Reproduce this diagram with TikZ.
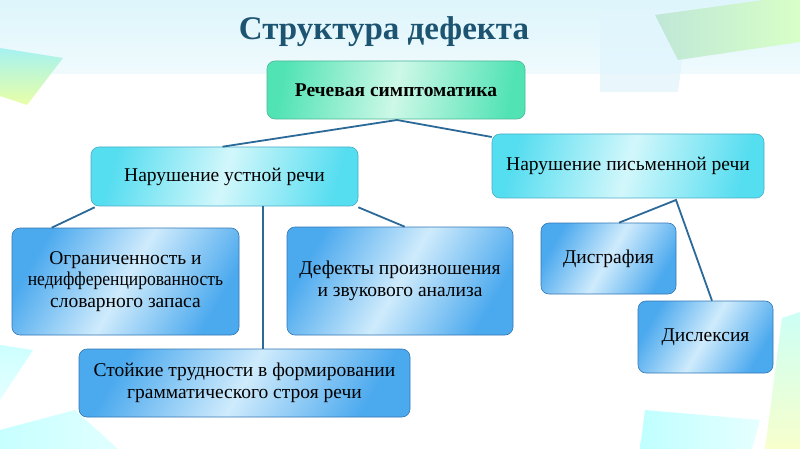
\documentclass[tikz,border=0pt]{standalone}
\usepackage{fontspec}
\setmainfont{Liberation Serif}
\definecolor{titlec}{HTML}{1C5472}
\definecolor{linec}{HTML}{2B6A98}
\definecolor{bedge}{HTML}{4BA9EE}
\definecolor{bmid}{HTML}{CFEBFC}
\definecolor{bdraw}{HTML}{3577B5}
\definecolor{cedge}{HTML}{55DDF0}
\definecolor{cmid}{HTML}{D2F7FB}
\definecolor{cdraw}{HTML}{49AFC8}
\definecolor{gedge}{HTML}{52E3B4}
\definecolor{gmid}{HTML}{CDF8E8}
\definecolor{gdraw}{HTML}{4CB896}
\definecolor{bgtop}{HTML}{DDF5FB}
\begin{document}
\begin{tikzpicture}[x=1pt,y=-1pt,
  box/.style={rounded corners=8pt, align=center, inner sep=1pt, font=\fontsize{19.5}{21.5}\selectfont, line width=0.6pt},
  bluebox/.style={box, draw=bdraw, left color=bedge, right color=bedge, middle color=bmid, shading angle=60},
  cyanbox/.style={box, draw=cdraw, left color=cedge, right color=cedge, middle color=cmid, shading angle=75},
  greenbox/.style={box, draw=gdraw, left color=gedge, right color=gedge, middle color=gmid, shading angle=80},
  conn/.style={draw=linec, line width=1.8pt}]
% background
\useasboundingbox (0,0) rectangle (800,449);
\fill[white] (0,0) rectangle (800,449);
\shade[top color=bgtop, bottom color=bgtop!45] (0,0) rectangle (800,74);
\fill[cyan!12, opacity=0.7] (600,0) -- (690,0) -- (678,92) -- (600,92) -- cycle;
\shade[left color=green!25!teal!25, right color=yellow!30!green!22] (655,15) -- (800,-5) -- (800,42) -- (678,60) -- cycle;
\shade[top color=teal!30!cyan!35, bottom color=green!25!yellow!35] (0,48) -- (63,58) -- (27,105) -- (0,96) -- cycle;
\shade[top color=cyan!20, bottom color=cyan!10] (0,345) -- (33,350) -- (0,400) -- cycle;
\shade[left color=cyan!22, right color=cyan!12] (0,430) -- (75,410) -- (118,449) -- (0,449) -- cycle;
\shade[left color=cyan!25, right color=cyan!10] (645,410) -- (760,420) -- (752,449) -- (640,449) -- cycle;
\shade[top color=green!20!cyan!20, bottom color=green!15!yellow!20] (782,318) -- (800,312) -- (800,449) -- (765,449) -- cycle;
% title
\node[font=\fontsize{33}{36}\selectfont\bfseries, text=titlec] (title) at (384,32) {Структура дефекта};
% boxes
\node[greenbox, minimum width=258pt, minimum height=58pt, font=\fontsize{19.5}{21.5}\selectfont\bfseries] (root) at (396,90) {Речевая симптоматика};
\node[cyanbox, minimum width=267pt, minimum height=59pt] (oral) at (224.5,176.5) {Нарушение устной речи};
\node[cyanbox, minimum width=272pt, minimum height=64pt] (writ) at (628,166) {Нарушение письменной речи};
\node[bluebox, minimum width=227pt, minimum height=107pt] (lex) at (125.5,281.5) {Ограниченность и\\\scalebox{0.9}[1]{недифференцированность}\\словарного запаса};
\node[bluebox, minimum width=226pt, minimum height=108pt] (pron) at (400,281) {Дефекты произношения\\и звукового анализа};
\node[bluebox, minimum width=331pt, minimum height=68pt] (gram) at (244.5,383) {Стойкие трудности в формировании\\грамматического строя речи};
\node[bluebox, minimum width=135pt, minimum height=71pt] (disg) at (608.5,258.5) {Дисграфия};
\node[bluebox, minimum width=135pt, minimum height=72pt] (disl) at (705.5,337) {Дислексия};
% connectors
\coordinate (rj) at (397,120);
\coordinate (wj) at (676,200);
\draw[conn] (oral.north) ++(-2,0) coordinate (oralt) (oralt) -- (rj) -- (writ.north west |- 0,137) coordinate (writt);
\draw[conn] ([xshift=4pt,yshift=-1pt]oral.south west) -- ([xshift=40pt]lex.north west);
\draw[conn] (oral.south -| 263,0) -- (gram.north -| 263,0);
\draw[conn] ([yshift=-1pt]oral.south east) -- ([xshift=118pt]pron.north west);
\draw[conn] (disg.north -| 619,0) -- (wj) -- (disl.north -| 712,0);
\end{tikzpicture}
\end{document}
